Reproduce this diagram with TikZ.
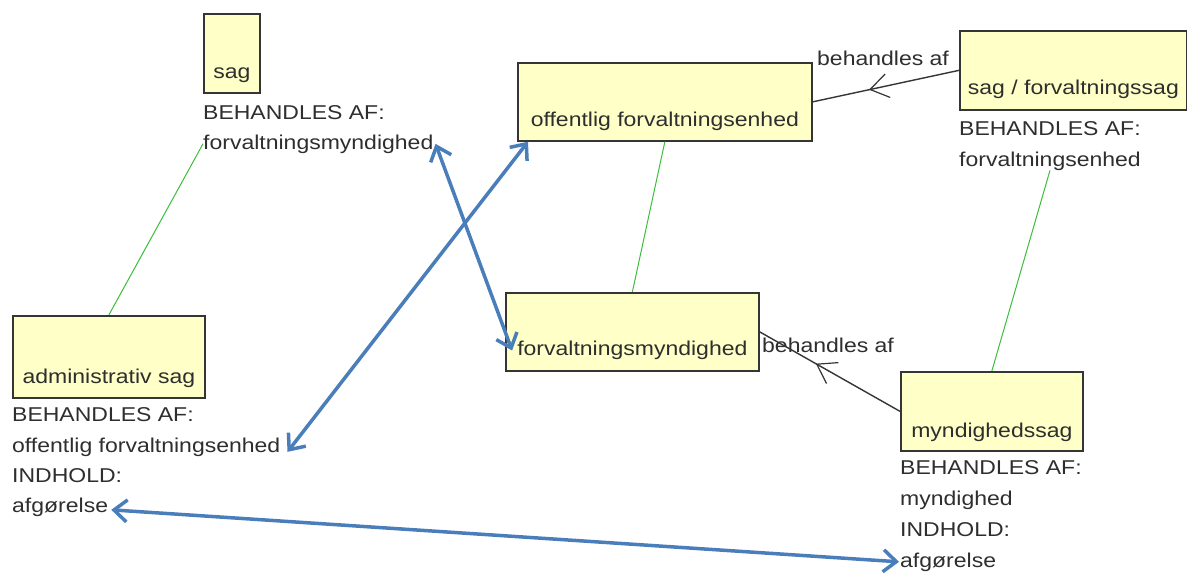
\documentclass[tikz,border=0pt]{standalone}
\usepackage{fontspec}
\setmainfont{Liberation Sans}[FakeStretch=1.15]
\usetikzlibrary{arrows.meta,decorations.markings}
\definecolor{boxfill}{HTML}{FFFFC8}
\definecolor{boxline}{HTML}{353535}
\definecolor{txtc}{HTML}{2E2E2E}
\definecolor{gline}{HTML}{3CBE3C}
\definecolor{barrow}{HTML}{4A7EBB}
\begin{document}
\begin{tikzpicture}[x=1pt,y=-1pt,
  box/.style={draw=boxline, line width=1.7pt, fill=boxfill, inner sep=0pt, anchor=north west},
  boxtext/.style={anchor=base, inner sep=0pt, text=txtc, font=\fontsize{20}{24}\selectfont},
  lbl/.style={anchor=base west, inner sep=0pt, text=txtc, font=\fontsize{20}{24}\selectfont},
  greenline/.style={draw=gline, line width=1pt},
  relline/.style={draw=boxline, line width=1.4pt},
  midarrowA/.style={postaction={decorate}, decoration={markings, mark=at position #1 with {\arrow[boxline, line width=1.2pt]{Straight Barb[length=18pt,width=24pt]}}}},
  bluearrow/.style={draw=barrow, line width=3.5pt, {Straight Barb[length=13pt,width=22pt]}-{Straight Barb[length=13pt,width=22pt]}}
]
\useasboundingbox (0,0) rectangle (1187,574);

% boxes
\node[box, minimum width=56pt, minimum height=79pt] (sag) at (203,13) {};
\node[box, minimum width=294pt, minimum height=78pt] (off) at (517,62) {};
\node[box, minimum width=227pt, minimum height=79pt] (sfs) at (959,30) {};
\node[box, minimum width=253pt, minimum height=78pt] (fm) at (505,292) {};
\node[box, minimum width=192pt, minimum height=82pt] (adm) at (12,315) {};
\node[box, minimum width=182pt, minimum height=79pt] (myn) at (900,371) {};

% box texts
\node[boxtext] (sagT) at ([yshift=15pt]sag.south) {sag};
\node[boxtext] (offT) at ([yshift=15pt]off.south) {offentlig forvaltningsenhed};
\node[boxtext] (sfsT) at ([yshift=16pt]sfs.south) {sag / forvaltningssag};
\node[boxtext] (fmT) at ([yshift=16pt]fm.south) {forvaltningsmyndighed};
\node[boxtext] (admT) at ([yshift=15pt]adm.south) {administrativ sag};
\node[boxtext] (mynT) at ([yshift=14pt]myn.south) {myndighedssag};

% labels below boxes
\node[lbl] (sagL1) at (203,119) {BEHANDLES AF:};
\node[lbl] (sagL2) at (203,149) {forvaltningsmyndighed};
\node[lbl] (sfsL1) at (959,135) {BEHANDLES AF:};
\node[lbl] (sfsL2) at (959,166) {forvaltningsenhed};
\node[lbl] (admL1) at (12,421) {BEHANDLES AF:};
\node[lbl] (admL2) at (12,452) {offentlig forvaltningsenhed};
\node[lbl] (admL3) at (12,482) {INDHOLD:};
\node[lbl] (admL4) at (12,512) {afgørelse};
\node[lbl] (mynL1) at (900,474) {BEHANDLES AF:};
\node[lbl] (mynL2) at (900,505) {myndighed};
\node[lbl] (mynL3) at (900,536) {INDHOLD:};
\node[lbl] (mynL4) at (900,567) {afgørelse};

% relation labels
\node[lbl] (rel1) at (817,65) {behandles af};
\node[lbl] (rel2) at (762,352) {behandles af};

% green lines
\draw[greenline] (sagL2.west) -- (adm.north);
\draw[greenline] (off.south) -- (fm.north);
\draw[greenline] (sfsL2.south) -- (myn.north);

% black relation lines
\draw[relline, midarrowA=0.615] (sfs.west) -- (off.east);
\draw[relline, midarrowA=0.60] (myn.west) -- (fm.east);

% blue arrows
\draw[bluearrow] ([xshift=2pt]sagL2.east) -- ([xshift=-5pt]fmT.west);
\draw[bluearrow] ([xshift=11pt]off.south west) -- ([xshift=7pt,yshift=-5pt]admL2.east);
\draw[bluearrow] ([xshift=3pt,yshift=-3pt]admL4.east) -- ([xshift=-1pt]mynL4.west);
\end{tikzpicture}
\end{document}
